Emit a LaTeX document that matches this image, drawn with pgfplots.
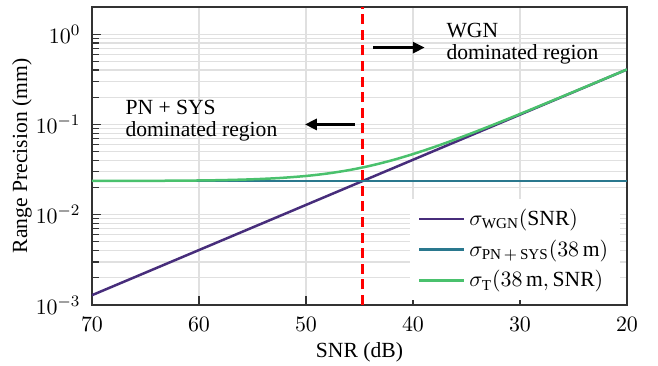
\documentclass[border=0pt]{standalone}
\usepackage{fontspec}
\setmainfont{Liberation Serif}
\usepackage{pgfplots}
\pgfplotsset{compat=1.18}
\usetikzlibrary{arrows.meta}
\definecolor{cpurple}{HTML}{472D7B}
\definecolor{cteal}{HTML}{2A788E}
\definecolor{cgreen}{HTML}{4AC16D}
\definecolor{gridc}{HTML}{E0E0E0}
\begin{document}%
\fontsize{10.8}{12.9}\selectfont%
\begin{tikzpicture}
\begin{axis}[
  scale only axis,
  width=267.5pt, height=149pt,
  xmin=20, xmax=70, x dir=reverse,
  ymode=log, ymin=1e-3, ymax=2,
  xtick={20,30,40,50,60,70},
  ytick={1e-3,1e-2,1e-1,1},
  tick align=inside, tick pos=left,
  major tick length=4.5pt, minor tick length=3.5pt,
  every tick/.style={black!80, line width=0.6pt},
  axis line style={black!80, line width=0.8pt},
  grid=both,
  major grid style={gridc, line width=0.6pt},
  minor grid style={gridc, line width=0.6pt},
  xticklabel style={yshift=-2.5pt},
  yticklabel style={xshift=-2pt},
  xlabel={SNR (dB)},
  ylabel={Range Precision (mm)},
  xlabel style={at={(axis description cs:0.5,-0.158)}, anchor=center},
  ylabel style={at={(axis description cs:-0.131,0.5)}, anchor=center},
  legend cell align=left,
  legend style={at={(0.988,0.015)}, anchor=south east, draw=none, fill=white,
    row sep=1.5pt, inner xsep=4pt, inner ysep=3pt,
    /tikz/every even column/.append style={column sep=0pt}},
  legend image code/.code={\draw[#1, line width=1.25pt] (0pt,0pt) -- (22.5pt,0pt);},
]
\addplot[cpurple, line width=1.25pt] coordinates {
(70,0.0012839)(65,0.0022831)(60,0.00406)(55,0.007220)(50,0.012839)
(45,0.022831)(40,0.0406)(35,0.072198)(30,0.12839)(25,0.22831)(20,0.406)};
\addlegendentry{$\sigma_{\mathrm{WGN}}(\mathrm{SNR})$}
\addplot[cteal, line width=1.25pt] coordinates {(70,0.0236)(20,0.0236)};
\addlegendentry{$\sigma_{\mathrm{PN\,{+}\,SYS}}(38\,\mathrm{m})$}
\addplot[cgreen, line width=1.25pt, smooth] coordinates {
(70,0.023635)(65,0.023710)(60,0.023947)(57.5,0.024213)(55,0.024680)
(52.5,0.025488)(50,0.026866)(48,0.028604)(46,0.031161)(44,0.034831)
(42,0.039963)(40,0.046961)(38,0.056297)(36,0.068538)(34,0.084376)
(32,0.10468)(30,0.13054)(28,0.16334)(26,0.20484)(24,0.25726)
(22,0.32336)(20,0.40669)};
\addlegendentry{{$\sigma_{\mathrm{T}}(38\,\mathrm{m},\mathrm{SNR})$}}
\addplot[red, line width=1.2pt, dash pattern=on 5pt off 2.8pt, forget plot] coordinates {(44.7,1e-3)(44.7,2)};
\draw[-{Triangle[length=6pt,width=5.5pt]}, line width=1.4pt] (axis cs:45.4,0.1) -- (axis cs:50.1,0.1);
\draw[-{Triangle[length=6pt,width=5.5pt]}, line width=1.4pt] (axis cs:43.7,0.71) -- (axis cs:38.9,0.71);
\node[anchor=west, align=left, inner sep=0pt, font=\fontsize{10.8}{11}\selectfont] at (axis cs:66.9,0.11) {PN + SYS\\dominated region};
\node[anchor=west, align=left, inner sep=0pt, font=\fontsize{10.8}{11}\selectfont] at (axis cs:36.9,0.79) {WGN\\dominated region};
\end{axis}
\pgfresetboundingbox
\path (current axis.south west) +(-46pt,-30.5pt) (current axis.north east) +(15.5pt,3.5pt);
\end{tikzpicture}
\end{document}
